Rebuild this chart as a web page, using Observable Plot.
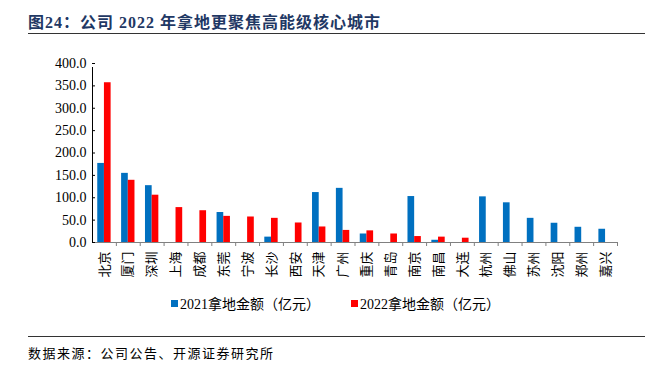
<!DOCTYPE html>
<html>
<head>
<meta charset="utf-8">
<script src="https://cdn.jsdelivr.net/npm/d3@7"></script>
<script src="https://cdn.jsdelivr.net/npm/@observablehq/plot@0.6"></script>
<style>
  html, body { margin: 0; padding: 0; background: #fff; }
  #wrap { position: relative; width: 651px; height: 368px; overflow: hidden; font-family: "Liberation Serif", "Noto Sans CJK SC", serif; }
  #title { position: absolute; left: 28px; top: 9px; font-size: 16px; font-weight: bold; color: #1F3864; letter-spacing: 1px; white-space: nowrap; }
  .rule { position: absolute; left: 28px; width: 617px; height: 0; border-top: 1.5px solid #333; }
  #chart { position: absolute; left: 0; top: 40px; }
  .leg { position: absolute; top: 293px; font-size: 14px; color: #000; white-space: nowrap; display: flex; align-items: center; }
  .sw { display: inline-block; width: 7px; height: 7px; margin-right: 2px; }
  #source { position: absolute; left: 28px; top: 343px; font-size: 13px; letter-spacing: 1.5px; color: #000; font-family: "Noto Sans CJK SC", sans-serif; white-space: nowrap; }
</style>
</head>
<body>
<div id="wrap">
  <div id="title">图24：公司 2022 年拿地更聚焦高能级核心城市</div>
  <div class="rule" style="top:33px"></div>
  <div id="chart"></div>
  <div class="leg" style="left:171px"><span class="sw" style="background:#0070C0"></span>2021拿地金额（亿元）</div>
  <div class="leg" style="left:351px"><span class="sw" style="background:#FF0000"></span>2022拿地金额（亿元）</div>
  <div class="rule" style="top:336px"></div>
  <div id="source">数据来源：公司公告、开源证券研究所</div>
</div>
<script>
const cities = ["北京","厦门","深圳","上海","成都","东莞","宁波","长沙","西安","天津","广州","重庆","青岛","南京","南昌","大连","杭州","佛山","苏州","沈阳","郑州","嘉兴"];
const v2021 = [176.7,154.5,127,0,0,67,0,12,0,111.6,121,19,0,102.7,5,0,102,88.7,54,43,34,29.6];
const v2022 = [357,139,105.7,78,71,58.4,57,54,43.6,34.7,27,26,19,13.3,12,9.6,0,0,0,0,0,0];
const yTicks = [0,50,100,150,200,250,300,350,400];

const W = 651, H = 250, mL = 92, mR = 34, mT = 23, mB = 48;
const step = (W - mL - mR) / cities.length;
const bw = step * 0.56;

const d21 = cities.map((c, i) => ({city: c, value: v2021[i]}));
const d22 = cities.map((c, i) => ({city: c, value: v2022[i]}));

const chart = Plot.plot({
  width: W, height: H,
  marginLeft: mL, marginRight: mR, marginTop: mT, marginBottom: mB,
  style: {fontFamily: "'Liberation Serif', 'Noto Sans CJK SC', serif", fontSize: "14px", color: "#000", background: "transparent"},
  x: {domain: cities, paddingInner: 0.44, paddingOuter: 0.22, round: false, axis: null},
  y: {domain: [0, 400], axis: null},
  marks: [
    Plot.barY(d21, {x: "city", y: "value", fill: "#0070C0", insetRight: bw / 2}),
    Plot.barY(d22, {x: "city", y: "value", fill: "#FF0000", insetLeft: bw / 2}),
    Plot.ruleY([0], {stroke: "#808080", strokeWidth: 1}),
    Plot.ruleX(cities.slice(1), {x: d => d, dx: -step / 2, y1: 0, y2: 0, insetBottom: -4, stroke: "#808080"}),
    Plot.ruleX(cities.slice(-1), {x: d => d, dx: step / 2, y1: 0, y2: 0, insetBottom: -4, stroke: "#808080"}),
    Plot.ruleX(cities.slice(0, 1), {x: d => d, dx: -step / 2, y1: 0, y2: 400, insetBottom: -4, stroke: "#000"}),
    Plot.tickY(yTicks, {y: d => d, x: () => cities[0], dx: -0.22 * step, insetRight: bw - 3, stroke: "#000"}),
    Plot.axisY({ticks: yTicks, tickFormat: d3.format(".1f"), tickSize: 0, tickPadding: 6, fontSize: 14, label: null}),
    Plot.axisX({tickSize: 0, tickPadding: 9, tickRotate: -90, fontSize: 13, fontFamily: "'Noto Sans CJK SC', sans-serif", label: null})
  ]
});
document.getElementById("chart").appendChild(chart);
</script>
</body>
</html>
